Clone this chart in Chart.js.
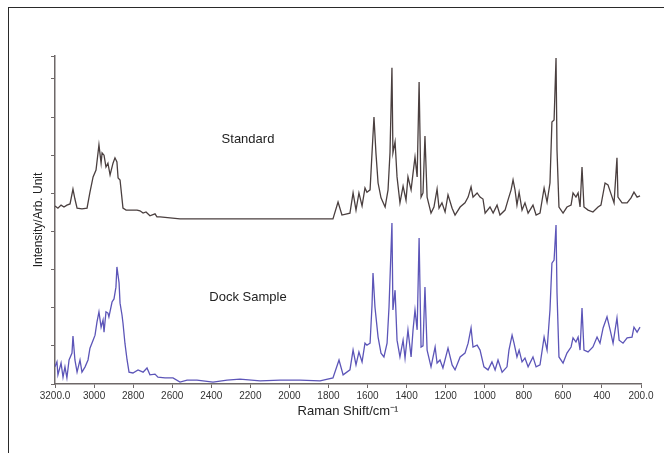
<!DOCTYPE html>
<html>
<head>
<meta charset="utf-8">
<script src="https://cdn.jsdelivr.net/npm/chart.js@4/dist/chart.umd.min.js"></script>
<style>
  html, body { margin: 0; padding: 0; background: #ffffff; }
  #wrap { position: relative; width: 664px; height: 453px; overflow: hidden; }
  #frame { position: absolute; left: 8px; top: 7px; width: 700px; height: 500px;
           border-top: 1.5px solid #2a2a2a; border-left: 1.5px solid #2a2a2a; }
  canvas { position: absolute; left: 0; top: 0; }
</style>
</head>
<body>
<div id="wrap">
  <div id="frame"></div>
  <canvas id="c" width="664" height="453"></canvas>
</div>
<script>
// Raman shift (cm-1) and intensity (arb. units) for the Standard spectrum
const standardShift = [3200,3185,3169,3154,3139,3123,3108,3098,3087,3062,3036,3021,3005,2990,2975,2964,2959,2949,2939,2929,2918,2903,2893,2883,2877,2867,2852,2836,2801,2780,2765,2749,2734,2714,2688,2678,2662,2560,2253,2048,1843,1777,1751,1731,1690,1674,1659,1644,1628,1613,1603,1587,1577,1567,1557,1546,1531,1510,1495,1485,1475,1470,1459,1449,1434,1418,1403,1393,1377,1367,1357,1346,1336,1326,1316,1306,1295,1275,1260,1244,1234,1219,1203,1188,1167,1152,1126,1101,1085,1070,1060,1039,1024,1009,998,973,957,937,922,896,881,865,855,845,835,824,809,794,778,753,737,717,696,681,666,656,645,635,630,620,599,579,558,548,533,522,512,502,492,471,446,420,405,384,369,348,338,323,318,297,271,251,236,220,205];
const standardIntensity = [4.67,4.61,4.69,4.64,4.69,4.72,5.11,4.85,4.61,4.59,4.61,5.03,5.43,5.61,6.27,5.79,6.06,6.00,5.69,5.79,5.48,5.79,5.93,5.82,5.40,5.35,4.61,4.56,4.56,4.56,4.54,4.48,4.51,4.41,4.46,4.38,4.38,4.33,4.33,4.33,4.33,4.33,4.77,4.43,4.48,5.01,4.56,5.01,4.67,5.14,5.03,5.09,6.06,7.00,6.06,5.27,4.88,4.64,5.09,6.06,8.29,6.06,6.35,5.43,4.75,5.19,4.82,5.43,5.09,5.53,5.95,5.43,7.92,4.90,5.01,6.50,4.90,4.48,4.64,5.11,4.61,4.75,4.51,4.96,4.61,4.43,4.64,4.75,4.90,5.17,4.90,5.01,4.90,4.85,4.48,4.64,4.48,4.69,4.43,4.56,4.82,5.09,5.35,5.09,4.69,5.03,4.56,4.75,4.48,4.69,4.43,4.48,5.14,4.77,5.27,6.87,6.92,8.55,6.13,4.64,4.48,4.64,4.69,5.01,4.90,5.01,4.64,5.69,4.64,4.56,4.51,4.64,4.69,5.27,5.22,4.90,4.75,5.93,4.90,4.75,4.75,4.88,5.03,4.90,4.93];

// Raman shift (cm-1) and intensity (arb. units) for the Dock Sample spectrum
const dockShift = [3200,3190,3185,3169,3159,3149,3139,3128,3113,3108,3098,3087,3072,3062,3046,3031,3021,3005,2995,2985,2975,2964,2954,2949,2939,2929,2924,2908,2898,2888,2883,2872,2867,2857,2852,2842,2831,2821,2801,2775,2749,2729,2714,2688,2673,2637,2596,2560,2524,2473,2391,2319,2253,2150,2048,1946,1843,1777,1746,1725,1690,1674,1659,1644,1628,1613,1603,1587,1577,1572,1562,1546,1531,1516,1500,1490,1475,1470,1459,1449,1434,1418,1408,1393,1377,1367,1357,1346,1336,1326,1316,1306,1295,1275,1254,1244,1229,1214,1188,1167,1152,1126,1101,1085,1070,1060,1039,1024,1004,983,963,947,932,911,886,876,860,850,835,824,809,794,778,753,737,717,696,681,666,656,645,635,630,620,599,579,558,548,533,522,512,502,492,471,446,425,410,394,374,358,343,323,312,292,271,246,236,220,205];
const dockIntensity = [0.45,0.58,0.24,0.55,0.18,0.45,0.16,0.63,0.81,1.26,0.63,0.31,0.63,0.31,0.45,0.63,0.94,1.15,1.28,1.63,1.89,1.49,1.68,1.36,1.89,1.86,1.76,2.15,2.23,2.54,3.07,2.65,2.12,1.81,1.60,1.07,0.63,0.31,0.29,0.37,0.31,0.42,0.24,0.26,0.18,0.16,0.16,0.05,0.10,0.10,0.05,0.10,0.13,0.08,0.10,0.10,0.08,0.16,0.63,0.24,0.37,0.89,0.50,0.84,0.58,1.07,1.02,1.07,2.07,2.91,2.02,1.23,0.81,0.71,1.07,2.02,4.22,1.94,2.46,1.15,0.71,1.15,0.68,1.42,0.71,1.42,1.94,1.42,3.83,0.97,1.00,2.54,0.89,0.45,0.97,0.55,0.63,0.42,0.94,0.50,0.37,0.71,0.81,1.07,1.47,0.97,1.02,0.89,0.45,0.37,0.58,0.37,0.63,0.31,0.45,0.89,1.28,1.07,0.71,0.89,0.58,0.68,0.45,0.71,0.45,0.50,1.23,0.89,1.94,3.17,3.25,4.17,2.39,0.71,0.55,0.81,0.97,1.21,1.10,1.23,0.89,1.99,0.89,0.84,0.97,1.23,1.07,1.47,1.76,1.42,1.07,1.73,1.15,1.07,1.21,1.23,1.49,1.36,1.49];

// Axis ticks
const xTickValues = [3200,3000,2800,2600,2400,2200,2000,1800,1600,1400,1200,1000,800,600,400,200];
const xTickLabels = ["3200.0","3000","2800","2600","2400","2200","2000","1800","1600","1400","1200","1000","800","600","400","200.0"];

// In-plot labels: text, shift, intensity
const seriesNames = ["Standard", "Dock Sample"];
const labelShift = [2212, 2212];
const labelIntensity = [6.42, 2.28];

const axisColor = '#6e6868';
const fontFamily = '"Liberation Sans", Arial, Helvetica, sans-serif';

const seriesLabelPlugin = {
  id: 'seriesLabels',
  afterDatasetsDraw(chart) {
    const {ctx, scales} = chart;
    ctx.save();
    ctx.fillStyle = '#222';
    ctx.font = '13px ' + fontFamily;
    ctx.textAlign = 'center';
    ctx.textBaseline = 'middle';
    seriesNames.forEach((name, i) => {
      ctx.fillText(name, scales.x.getPixelForValue(labelShift[i]), scales.y.getPixelForValue(labelIntensity[i]));
    });
    ctx.restore();
  }
};

new Chart(document.getElementById('c'), {
  type: 'line',
  data: {
    datasets: [
      {
        label: seriesNames[0],
        data: standardShift.map((s, i) => ({x: s, y: standardIntensity[i]})),
        borderColor: '#4a3f3f',
        borderWidth: 1.3,
        pointRadius: 0,
        tension: 0,
        fill: false
      },
      {
        label: seriesNames[1],
        data: dockShift.map((s, i) => ({x: s, y: dockIntensity[i]})),
        borderColor: '#5c55b8',
        borderWidth: 1.3,
        pointRadius: 0,
        tension: 0,
        fill: false
      }
    ]
  },
  options: {
    responsive: false,
    animation: false,
    layout: { padding: { left: 0, top: 56, right: 23, bottom: 0 } },
    plugins: { legend: { display: false }, tooltip: { enabled: false } },
    scales: {
      x: {
        type: 'linear',
        reverse: true,
        min: 200,
        max: 3200,
        afterBuildTicks: (scale) => { scale.ticks = xTickValues.map(v => ({value: v})); },
        afterFit: (scale) => { scale.height = 69; },
        ticks: {
          autoSkip: false,
          maxRotation: 0,
          color: '#333',
          padding: 2,
          font: { size: 10, family: fontFamily },
          callback: (v) => { const i = xTickValues.indexOf(v); return i >= 0 ? xTickLabels[i] : ''; }
        },
        grid: { drawOnChartArea: false, tickLength: 4, color: axisColor },
        border: { display: true, color: axisColor, width: 1.5 },
        title: {
          display: true,
          text: 'Raman Shift/cm\u207B\u00B9',
          color: '#222',
          font: { size: 13, family: fontFamily },
          padding: { top: 0, bottom: 34 }
        }
      },
      y: {
        type: 'linear',
        min: 0,
        max: 8.6,
        afterFit: (scale) => { scale.width = 55; },
        ticks: { display: false, stepSize: 1 },
        grid: { drawOnChartArea: false, tickLength: 4, color: axisColor },
        border: { display: true, color: axisColor, width: 1.5 },
        title: {
          display: true,
          text: 'Intensity/Arb. Unit',
          color: '#222',
          font: { size: 12, family: fontFamily },
          padding: { top: 31, bottom: 0 }
        }
      }
    }
  },
  plugins: [seriesLabelPlugin]
});
</script>
</body>
</html>
